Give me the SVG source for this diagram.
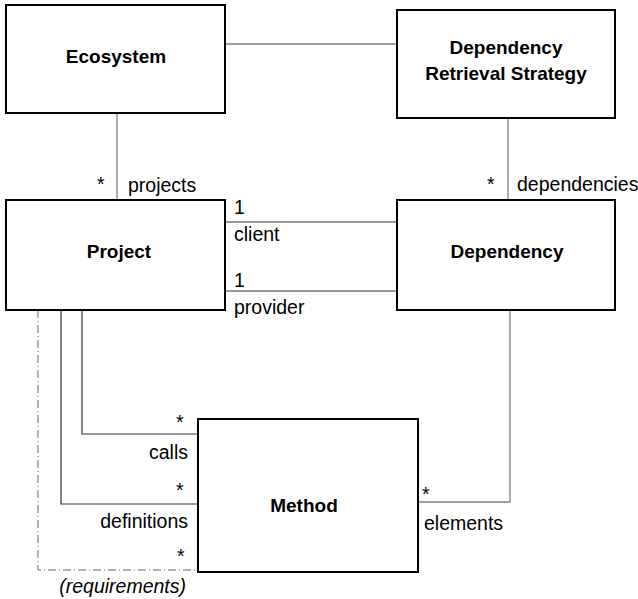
<svg xmlns="http://www.w3.org/2000/svg" width="638" height="599" viewBox="0 0 638 599">
<style>
.box{fill:#fff;stroke:#000;stroke-width:2}
.t{font-family:"Liberation Sans",Arial,sans-serif;font-size:19.5px;fill:#000}
.b{font-weight:bold;text-anchor:middle;font-size:19px}
.c{fill:none;stroke:#808080;stroke-width:1.3}
.k{fill:none;stroke:#333;stroke-width:1.2}
.d{fill:none;stroke:#666;stroke-width:1;stroke-dasharray:8 3 1 3}
</style>
<rect width="638" height="599" fill="#fff"/>
<g id="connectors">
<line class="c" x1="225" y1="44" x2="397" y2="44"/>
<line class="c" x1="117" y1="113" x2="117" y2="200"/>
<line class="c" x1="508" y1="118" x2="508" y2="200"/>
<line class="k" x1="225" y1="222" x2="397" y2="222"/>
<line class="k" x1="225" y1="291" x2="397" y2="291"/>
<polyline class="k" points="82,310 82,434 198,434"/>
<polyline class="k" points="61,310 61,504 198,504"/>
<polyline class="d" points="38,310 38,570 198,570"/>
<polyline class="c" points="418,502 510,502 510,310"/>
<text class="t" x="97" y="191">*</text>
<text class="t" x="128" y="192">projects</text>
<text class="t" x="487" y="191">*</text>
<text class="t" x="517" y="191">dependencies</text>
<text class="t" x="234" y="214">1</text>
<text class="t" x="234" y="241">client</text>
<text class="t" x="234" y="287">1</text>
<text class="t" x="234" y="314">provider</text>
<text class="t" x="176" y="429">*</text>
<text class="t" x="188" y="459" text-anchor="end">calls</text>
<text class="t" x="176" y="497">*</text>
<text class="t" x="188" y="528" text-anchor="end">definitions</text>
<text class="t" x="177" y="563">*</text>
<text class="t" x="186" y="593" text-anchor="end" font-style="italic">(requirements)</text>
<text class="t" x="422" y="501">*</text>
<text class="t" x="424" y="530">elements</text>
</g>
<g id="ecosystem"><rect class="box" x="6" y="5" width="219" height="108"/><text class="t b" x="116" y="63">Ecosystem</text></g>
<g id="drs"><rect class="box" x="397" y="10" width="218" height="108"/><text class="t b" x="506" y="54">Dependency</text><text class="t b" x="506" y="80">Retrieval Strategy</text></g>
<g id="project"><rect class="box" x="6" y="200" width="219" height="110"/><text class="t b" x="119" y="258">Project</text></g>
<g id="dependency"><rect class="box" x="397" y="200" width="218" height="110"/><text class="t b" x="507" y="258">Dependency</text></g>
<g id="method"><rect class="box" x="198" y="419" width="220" height="153"/><text class="t b" x="304" y="512">Method</text></g>
</svg>
